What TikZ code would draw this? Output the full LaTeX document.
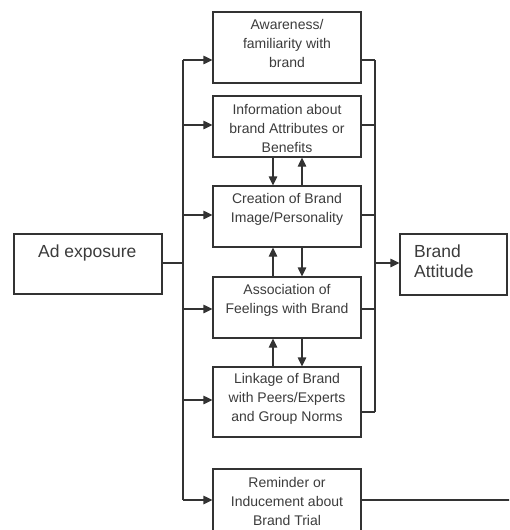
\documentclass[tikz,border=0pt]{standalone}
\usepackage{fontspec}
\setmainfont{Liberation Sans}
\usetikzlibrary{arrows.meta}
\definecolor{ln}{HTML}{333333}
\definecolor{tx}{HTML}{3c3c3c}
\begin{document}
\begin{tikzpicture}[x=1pt,y=-1pt,
  box/.style={draw=ln, line width=1.2pt, inner sep=0pt, minimum width=148pt, minimum height=#1},
  txt/.style={text=tx, align=center, inner sep=0pt, font=\fontsize{14}{19}\selectfont},
  bigtxt/.style={text=tx, align=left, inner sep=0pt, font=\fontsize{17.5}{20}\selectfont},
  conn/.style={draw=ln, line width=1.2pt},
  arr/.style={conn, -{Triangle[length=9pt,width=8.5pt]}}
]
\clip (0,0) rectangle (509,530);
\fill[white] (0,0) rectangle (509,530);

% boxes
\node[box=71pt] (aw) at (287,47.5) {};
\node[box=61pt] (inf) at (287,126.5) {};
\node[box=61pt] (cre) at (287,216.5) {};
\node[box=61pt] (ass) at (287,307.5) {};
\node[box=70pt] (lnk) at (287,402) {};
\node[box=71pt] (rem) at (287,504.5) {};
\node[box=60pt] (ad) at (88,264) {};
\node[box=61pt, minimum width=107pt] (ba) at (453.5,264.5) {};

% texts
\node[txt] (awt) at (287,43.5) {Awareness/\\familiarity with\\brand};
\node[txt] (inft) at (287,128) {Information about\\brand Attributes or\\Benefits};
\node[txt] (cret) at (287,209) {Creation of Brand\\Image/Personality};
\node[txt] (asst) at (287,300) {Association of\\Feelings with Brand};
\node[txt] (lnkt) at (287,399) {Linkage of Brand\\with Peers/Experts\\and Group Norms};
\node[txt] (remt) at (287,501) {Reminder or\\Inducement about\\Brand Trial};
\node[bigtxt, anchor=west] (adt) at (38,253) {Ad exposure};
\node[bigtxt, anchor=west] (bat) at (414,261) {Brand\\Attitude};

% left bus
\coordinate (l1) at (183,60);
\coordinate (l2) at (183,125);
\coordinate (l3) at (183,215);
\coordinate (la) at (183,263);
\coordinate (l4) at (183,309);
\coordinate (l5) at (183,400);
\coordinate (l6) at (183,500);
\draw[conn] (l1) -- (l6);
\draw[conn] (ad.east |- la) -- (la);
\draw[arr] (l1) -- (aw.west |- l1);
\draw[arr] (l2) -- (inf.west |- l2);
\draw[arr] (l3) -- (cre.west |- l3);
\draw[arr] (l4) -- (ass.west |- l4);
\draw[arr] (l5) -- (lnk.west |- l5);
\draw[arr] (l6) -- (rem.west |- l6);

% right bus
\coordinate (r1) at (375,60);
\coordinate (r2) at (375,125);
\coordinate (r3) at (375,215);
\coordinate (ra) at (375,263);
\coordinate (r4) at (375,309);
\coordinate (r5) at (375,412);
\coordinate (rx) at (515,500);
\draw[conn] (r1) -- (r5);
\draw[conn] (aw.east |- r1) -- (r1);
\draw[conn] (inf.east |- r2) -- (r2);
\draw[conn] (cre.east |- r3) -- (r3);
\draw[conn] (ass.east |- r4) -- (r4);
\draw[conn] (lnk.east |- r5) -- (r5);
\draw[arr] (ra) -- (ba.west |- ra);
\draw[conn] (rem.east |- rx) -- (rx);

% vertical links
\draw[arr] ([xshift=-14pt]inf.south) -- ([xshift=-14pt]cre.north);
\draw[arr] ([xshift=15pt]cre.north) -- ([xshift=15pt]inf.south);
\draw[arr] ([xshift=-14pt]ass.north) -- ([xshift=-14pt]cre.south);
\draw[arr] ([xshift=15pt]cre.south) -- ([xshift=15pt]ass.north);
\draw[arr] ([xshift=-14pt]lnk.north) -- ([xshift=-14pt]ass.south);
\draw[arr] ([xshift=15pt]ass.south) -- ([xshift=15pt]lnk.north);
\end{tikzpicture}
\end{document}
